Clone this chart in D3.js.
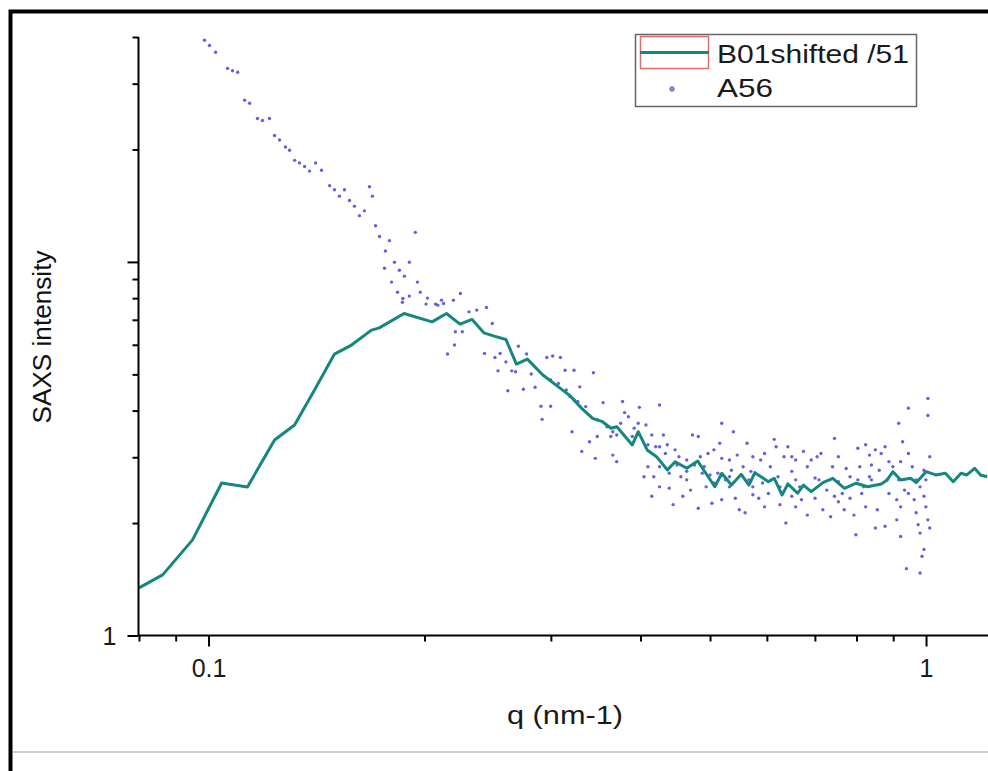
<!DOCTYPE html>
<html>
<head>
    <meta charset="utf-8">
    <script src="https://d3js.org/d3.v7.min.js"></script>
    <style>
        body { margin: 0; background: white; }
        svg { font-family: "Liberation Sans", Arial, sans-serif; }
        .axis path { fill: none; stroke: black; stroke-width: 2px; }
        .axis line { stroke: black; stroke-width: 2px; }
        path.b01 { fill: none; stroke: #15877c; stroke-width: 3px; stroke-linejoin: round; }
        circle.a56 { fill: #3c3cd0; opacity: 0.8; }
    </style>
</head>
<body>
<script>
    // B01shifted /51 (line)
    let b01Q = [0.0800, 0.0863, 0.0950, 0.1043, 0.1133, 0.1236, 0.1318, 0.1405, 0.1498, 0.1582,
        0.1687, 0.1730, 0.1873, 0.2049, 0.2146, 0.2241, 0.2330, 0.2419, 0.2502, 0.2597,
        0.2686, 0.2782, 0.2924, 0.3093, 0.3191, 0.3312, 0.3430, 0.3540, 0.3638, 0.3707,
        0.3896, 0.3971, 0.4086, 0.4210, 0.4361, 0.4470, 0.4641, 0.4806, 0.5077, 0.5192,
        0.5356, 0.5527, 0.5665, 0.5774, 0.6029, 0.6145, 0.6299, 0.6419, 0.6622, 0.6747,
        0.6918, 0.7183, 0.7413, 0.7696, 0.7991, 0.8292, 0.8664, 0.8827, 0.8993, 0.9221,
        0.9514, 0.9694, 1.0000, 1.0316, 1.0642, 1.0911, 1.1189, 1.1400, 1.1687, 1.1910, 1.2168];
    let b01I = [1.341, 1.453, 1.803, 2.560, 2.498, 3.337, 3.660, 4.539, 5.666, 5.990,
        6.568, 6.661, 7.278, 6.912, 7.278, 6.814, 7.015, 6.459, 6.328, 6.201,
        5.328, 5.494, 4.980, 4.586, 4.383, 4.055, 3.814, 3.735, 3.586, 3.622,
        3.236, 3.512, 3.138, 3.011, 2.773, 2.919, 2.803, 2.932, 2.502, 2.718,
        2.528, 2.701, 2.528, 2.728, 2.581, 2.635, 2.378, 2.545, 2.403, 2.528,
        2.427, 2.566, 2.635, 2.478, 2.556, 2.502, 2.545, 2.608, 2.745, 2.608,
        2.635, 2.566, 2.745, 2.690, 2.718, 2.581, 2.718, 2.690, 2.803, 2.690, 2.661];

    // A56 (scatter), [q, intensity]
    let a56Points = [
        [0.0987, 39.2], [0.1003, 37.97], [0.1023, 36.4], [0.1063, 32.96], [0.1080, 32.5], [0.1098, 32.2],
        [0.1123, 27.1], [0.1141, 26.6], [0.1170, 24.2], [0.1189, 23.9], [0.1216, 24.2], [0.1236, 21.8],
        [0.1256, 21.2], [0.1280, 20.3], [0.1297, 19.9], [0.1318, 18.7], [0.1339, 18.4], [0.1361, 18.0],
        [0.1383, 17.5], [0.1410, 18.4], [0.1437, 17.6], [0.1475, 16.0], [0.1498, 15.6], [0.1522, 15.0],
        [0.1547, 15.6], [0.1572, 14.6], [0.1597, 14.1], [0.1623, 13.3], [0.1649, 13.7], [0.1676, 15.9],
        [0.1692, 15.0], [0.1709, 12.5], [0.1731, 11.7], [0.1764, 10.7], [0.1787, 11.4], [0.1816, 9.98],
        [0.1845, 9.50], [0.1875, 9.16], [0.1905, 9.98], [0.1942, 12.0], [0.1955, 8.83], [0.1973, 8.30],
        [0.1759, 9.62], [0.1799, 8.83], [0.1834, 8.30], [0.1863, 7.80], [0.1905, 8.10], [0.2019, 8.00],
        [0.2072, 7.71], [0.2112, 7.90], [0.2202, 5.99],
        [0.1866, 7.98], [0.2010, 7.71], [0.2087, 7.66], [0.2126, 7.74], [0.2194, 7.90], [0.2244, 8.23],
        [0.2307, 7.35], [0.2365, 7.43], [0.2440, 7.55], [0.2486, 6.84], [0.2208, 6.50], [0.2258, 6.50],
        [0.2153, 5.67], [0.2425, 5.69], [0.2507, 5.55], [0.2549, 5.69], [0.2597, 5.40], [0.2532, 5.11],
        [0.2646, 5.11], [0.2679, 5.08], [0.2703, 5.95], [0.2775, 5.67], [0.2817, 5.01], [0.2613, 4.52],
        [0.2747, 4.56], [0.2852, 4.62], [0.2906, 4.11], [0.2998, 4.11], [0.2961, 5.55], [0.3017, 5.60],
        [0.3093, 5.55], [0.3140, 5.13], [0.3231, 5.13], [0.3439, 5.05], [0.3292, 4.63], [0.3191, 4.36],
        [0.3271, 4.23], [0.2917, 3.79], [0.3211, 3.51], [0.3313, 3.11], [0.3396, 3.30], [0.3481, 3.41],
        [0.3460, 2.98], [0.3660, 3.04], [0.3706, 2.92], [0.3637, 3.41], [0.3548, 4.20], [0.3776, 4.23],
        [0.3800, 3.95], [0.3848, 3.85], [0.3985, 4.08], [0.3970, 3.70], [0.4070, 3.66], [0.4252, 4.14],
        [0.3660, 3.51], [0.3706, 3.44], [0.3896, 3.41], [0.4148, 3.44], [0.4200, 3.20], [0.4305, 3.44],
        [0.4359, 3.24], [0.4469, 3.14], [0.4525, 3.01], [0.4639, 2.95], [0.4726, 3.44], [0.4815, 3.41],
        [0.4846, 3.01], [0.4968, 3.07], [0.5062, 3.14], [0.5158, 3.27], [0.5191, 3.70], [0.5389, 3.51],
        [0.5191, 2.98], [0.5322, 2.95], [0.5456, 3.04], [0.5630, 3.27], [0.5736, 3.01], [0.5882, 2.95],
        [0.6143, 3.35], [0.6181, 3.20], [0.6339, 3.01], [0.6418, 3.20], [0.6581, 2.95], [0.6747, 3.11],
        [0.6918, 2.95], [0.7049, 3.01], [0.7454, 3.37], [0.7548, 3.01], [0.7739, 2.80], [0.8238, 3.24],
        [0.8341, 3.04], [0.8499, 3.14], [0.8660, 3.07], [0.8878, 2.92], [0.9217, 2.92], [0.9450, 3.07],
        [0.9275, 3.30], [0.9160, 3.70], [0.9450, 4.06], [1.006, 4.31], [1.006, 3.88], [1.012, 3.01],
        [0.9933, 2.77],
        [0.4045, 2.66], [0.4174, 2.66], [0.4148, 2.36], [0.4386, 2.48], [0.4441, 2.24], [0.4639, 2.61],
        [0.4697, 2.45], [0.4815, 2.19], [0.5030, 2.26], [0.5062, 2.56], [0.5191, 2.31], [0.5423, 2.33],
        [0.5492, 2.17], [0.5595, 2.13], [0.5736, 2.38], [0.5845, 2.33], [0.5955, 2.21], [0.6029, 2.40],
        [0.6257, 2.24], [0.6378, 2.00], [0.6581, 2.21], [0.6705, 2.31], [0.6832, 2.10], [0.7004, 2.33],
        [0.7181, 2.17], [0.7362, 2.08], [0.7548, 2.28], [0.7691, 2.17], [0.7836, 2.33], [0.7934, 2.10],
        [0.7985, 1.86], [0.8135, 2.40], [0.8238, 2.21], [0.8499, 1.94], [0.8552, 2.17], [0.8768, 1.96],
        [0.8878, 2.40], [0.9103, 2.31], [0.9217, 2.21], [0.9217, 1.84], [0.9391, 1.51], [0.9450, 2.40],
        [0.9627, 2.31], [0.9688, 2.13], [0.9750, 1.98], [0.9810, 1.88], [0.9872, 1.63], [0.9933, 1.70],
        [0.9995, 2.21], [1.006, 2.04], [1.012, 1.94], [0.9810, 1.47], [0.9688, 2.61], [0.8341, 2.66],
        [0.8035, 2.61], [0.7548, 2.58], [0.7004, 2.64], [0.6581, 2.61], [0.6219, 2.66], [0.5665, 2.61],
        [0.5322, 2.66], [0.5127, 2.72], [0.4876, 2.72], [0.4639, 2.75], [0.4386, 2.72], [0.4252, 2.83],
        [0.2998, 4.83], [0.3074, 4.73], [0.3152, 4.54], [0.3231, 4.27], [0.3355, 4.10], [0.3481, 3.78],
        [0.3592, 3.62], [0.3752, 3.70], [0.3920, 3.59], [0.4096, 3.24], [0.4252, 3.20], [0.4332, 3.07],
        [0.4497, 2.86], [0.4553, 2.66], [0.4756, 2.86], [0.4907, 2.83], [0.5000, 2.69], [0.5256, 2.61],
        [0.5355, 2.77], [0.5560, 2.83], [0.5700, 2.75], [0.5918, 2.56], [0.6067, 2.83], [0.6257, 2.50],
        [0.6500, 2.75], [0.6665, 2.50], [0.6832, 2.83], [0.7093, 2.61], [0.7272, 2.45], [0.7408, 2.83],
        [0.7643, 2.40], [0.7836, 2.66], [0.8085, 2.83], [0.8186, 2.50], [0.8393, 2.61], [0.8605, 2.77],
        [0.8823, 2.61], [0.8989, 2.83], [0.9160, 2.61], [0.9333, 2.45], [0.9568, 2.83], [0.9810, 2.50],
        [0.9995, 2.61], [0.9933, 2.36], [0.9103, 2.04], [0.7454, 2.36], [0.6500, 2.36], [0.5736, 2.50],
        [0.5322, 2.50], [0.4938, 2.50], [0.4582, 2.36], [0.4252, 2.50], [0.4096, 2.83], [0.8035, 3.17],
        [0.8768, 3.20], [0.8393, 2.86], [0.7138, 3.07], [0.5955, 3.07], [0.6500, 3.01]
    ];

    let xDomain = [0.08, 1.22];
    let yDomain = [1, 40];
    let xTickValues = [0.08, 0.09, 0.1, 0.2, 0.3, 0.4, 0.5, 0.6, 0.7, 0.8, 0.9, 1];
    let xMajor = [0.1, 1];
    let yTickValues = [1, 2, 3, 4, 5, 6, 7, 8, 9, 10, 20, 30, 40];
    let yMajor = [1, 10];
    let yLabelled = [1];
    let seriesNames = ["B01shifted /51", "A56"];

    let w = 988, h = 771;
    let svg = d3.select('body').append('svg')
        .attr('width', w)
        .attr('height', h);

    // page frame
    svg.append('path')
        .attr('d', 'M10.5,771 V11.5 H988')
        .attr('fill', 'none')
        .attr('stroke', 'black')
        .attr('stroke-width', 4);
    svg.append('line')
        .attr('x1', 13).attr('x2', 988)
        .attr('y1', 752).attr('y2', 752)
        .attr('stroke', '#cfcfcf')
        .attr('stroke-width', 2);

    let x_scale = d3.scaleLog().domain(xDomain).range([139, 988]);
    let y_scale = d3.scaleLog().domain(yDomain).range([635.5, 37]);

    // scatter first, line on top
    svg.selectAll('circle.a56')
        .data(a56Points)
        .join('circle')
        .attr('class', 'a56')
        .attr('cx', d => x_scale(d[0]))
        .attr('cy', d => y_scale(d[1]))
        .attr('r', 1.7);

    let line = d3.line()
        .x(d => x_scale(d[0]))
        .y(d => y_scale(d[1]));
    svg.append('path')
        .attr('class', 'b01')
        .attr('d', line(d3.zip(b01Q, b01I)));

    // axes
    let x_axis = d3.axisBottom(x_scale)
        .tickValues(xTickValues)
        .tickSize(6)
        .tickFormat(d => xMajor.includes(d) ? String(d) : '');
    let gx = svg.append('g')
        .attr('class', 'x axis')
        .attr('transform', 'translate(0,635.5)')
        .call(x_axis);
    gx.select('.domain').attr('d', 'M139,0H988');
    gx.selectAll('.tick').filter(d => xMajor.includes(d)).select('line').attr('y2', 11);
    gx.selectAll('.tick text')
        .attr('y', 41.5).attr('dy', 0)
        .attr('font-size', 25)
        .attr('font-family', '"Liberation Sans", Arial, sans-serif')
        .attr('fill', '#1a1a1a');

    let y_axis = d3.axisLeft(y_scale)
        .tickValues(yTickValues)
        .tickSize(6)
        .tickFormat(d => yLabelled.includes(d) ? String(d) : '');
    let gy = svg.append('g')
        .attr('class', 'y axis')
        .attr('transform', 'translate(138.5,0)')
        .call(y_axis);
    gy.select('.domain').attr('d', 'M0,37V636');
    gy.selectAll('.tick').filter(d => yMajor.includes(d)).select('line').attr('x2', -11);
    gy.selectAll('.tick text')
        .attr('x', -22).attr('dy', '0.36em')
        .attr('font-size', 25)
        .attr('font-family', '"Liberation Sans", Arial, sans-serif')
        .attr('fill', '#1a1a1a');

    // axis titles
    svg.append('text')
        .text('q (nm-1)')
        .attr('x', 565).attr('y', 724)
        .attr('text-anchor', 'middle')
        .attr('font-size', 26)
        .attr('fill', '#1a1a1a')
        .attr('textLength', 116)
        .attr('lengthAdjust', 'spacingAndGlyphs');

    svg.append('text')
        .text('SAXS intensity')
        .attr('transform', 'translate(51,337) rotate(-90)')
        .attr('text-anchor', 'middle')
        .attr('font-size', 25)
        .attr('fill', '#111')
        .attr('textLength', 173)
        .attr('lengthAdjust', 'spacingAndGlyphs');

    // legend
    let legend = svg.append('g');
    legend.append('rect')
        .attr('x', 635.5).attr('y', 34.5)
        .attr('width', 281).attr('height', 72)
        .attr('fill', 'white')
        .attr('stroke', '#666')
        .attr('stroke-width', 1.5);
    legend.append('rect')
        .attr('x', 640.5).attr('y', 36.5)
        .attr('width', 68).attr('height', 32)
        .attr('fill', 'none')
        .attr('stroke', '#d9706f')
        .attr('stroke-width', 1.5);
    legend.append('line')
        .attr('x1', 640).attr('x2', 709)
        .attr('y1', 52.5).attr('y2', 52.5)
        .attr('stroke', '#15877c')
        .attr('stroke-width', 3);
    legend.append('circle')
        .attr('cx', 672).attr('cy', 89)
        .attr('r', 2.3)
        .attr('fill', '#8a8ad8')
        .attr('stroke', '#5a5ab8')
        .attr('stroke-width', 0.8);
    legend.selectAll('text')
        .data(seriesNames)
        .join('text')
        .text(d => d)
        .attr('x', 717)
        .attr('y', (d, i) => 63 + i * 34)
        .attr('font-size', 26)
        .attr('fill', '#1a1a1a')
        .attr('textLength', (d, i) => i === 0 ? 192 : 56)
        .attr('lengthAdjust', 'spacingAndGlyphs');
</script>
</body>
</html>
